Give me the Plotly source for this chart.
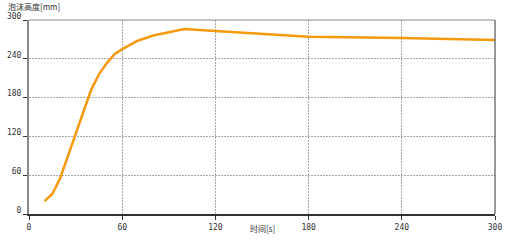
import plotly.graph_objects as go

time_s = [10, 15, 20, 25, 30, 35, 40, 45, 50, 55, 60, 70, 80, 90, 100, 120, 150, 180, 240, 300]
foam_mm = [20, 31, 55, 90, 122, 160, 192, 216, 233, 247, 255, 268, 276, 281, 286, 283, 278, 274, 272, 269]
tick_vals = [0, 60, 120, 180, 240, 300]
tick_text = ["0", "60", "120", "180", "240", "300"]

fig = go.Figure()
fig.add_trace(go.Scatter(x=time_s, y=foam_mm, mode="lines",
                         line=dict(color="#f59a0f", width=2.5), hoverinfo="skip"))

tick_font = dict(family="DejaVu Sans Mono", size=8, color="#333333")
title_font = dict(family="Noto Sans CJK SC", size=8, color="#333333")
fig.update_layout(
    width=505, height=240,
    margin=dict(l=29, r=10, t=20, b=26, autoexpand=False),
    paper_bgcolor="white", plot_bgcolor="white",
    showlegend=False,
    xaxis=dict(range=[0, 300], tickvals=tick_vals, ticktext=tick_text,
               showgrid=True, gridcolor="#a8a8a8", griddash="2px,1px", gridwidth=1,
               showline=True, linecolor="#333333", linewidth=2,
               ticks="outside", ticklen=4, tickcolor="#333333", tickwidth=1,
               tickfont=tick_font, zeroline=False, automargin=False),
    yaxis=dict(range=[0, 300], tickvals=tick_vals, ticktext=tick_text,
               showgrid=True, gridcolor="#a8a8a8", griddash="2px,1px", gridwidth=1,
               showline=True, linecolor="#888888", linewidth=2,
               ticks="outside", ticklen=4, tickcolor="#333333", tickwidth=1,
               tickfont=tick_font, zeroline=False, automargin=False,
               ticklabelshift=-4, ticklabelstandoff=0),
    shapes=[
        dict(type="line", xref="paper", yref="paper", x0=0, x1=1, y0=1, y1=1,
             line=dict(color="#888888", width=1)),
        dict(type="line", xref="paper", yref="paper", x0=1, x1=1, y0=0, y1=1,
             line=dict(color="#333333", width=1)),
    ],
    annotations=[
        dict(text="泡沫高度[mm]", xref="paper", yref="paper", x=-0.049, y=1.072,
             xanchor="left", yanchor="middle", showarrow=False, font=title_font),
        dict(text="时间[s]", xref="paper", yref="paper", x=0.502, y=-0.077,
             xanchor="center", yanchor="middle", showarrow=False, font=title_font),
    ],
)
fig.write_html("out.html")
